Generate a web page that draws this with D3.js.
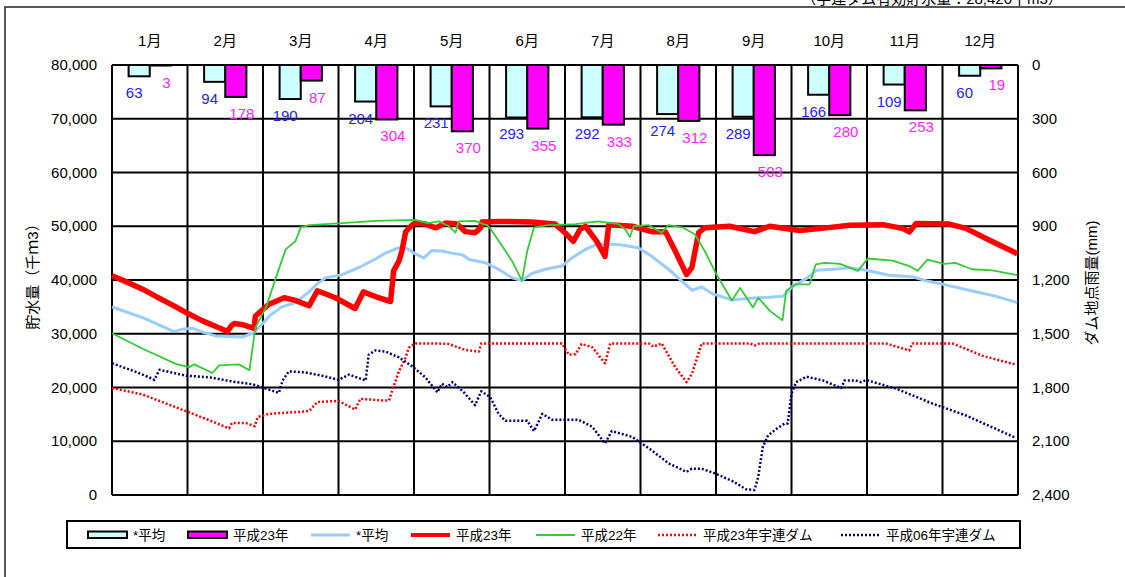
<!doctype html>
<html lang="ja">
<head>
<meta charset="utf-8">
<script src="https://d3js.org/d3.v7.min.js"></script>
<style>
  body { margin: 0; background: #fff; }
  text { font-family: "Liberation Sans", "Noto Sans CJK JP", sans-serif; }
</style>
</head>
<body>
<script>
var months = ["1月","2月","3月","4月","5月","6月","7月","8月","9月","10月","11月","12月"];
var avgRain = [63, 94, 190, 204, 231, 293, 292, 274, 289, 166, 109, 60];
var rain23 = [3, 178, 87, 304, 370, 355, 333, 312, 503, 280, 253, 19];
var leftTicks = [0, 10000, 20000, 30000, 40000, 50000, 60000, 70000, 80000];
var rightTicks = [0, 300, 600, 900, 1200, 1500, 1800, 2100, 2400];

// [month position (0-12), 貯水量 千m3]
var avgStore = [[0,35000],[0.2,34000],[0.405,33000],[0.6,31800],[0.82,30400],[0.95,30900],[1.07,31000],[1.2,30300],[1.37,29600],[1.55,29500],[1.73,29400],[1.88,30200],[1.99,31800],[2.1,33500],[2.25,35000],[2.43,35800],[2.61,37800],[2.72,39300],[2.83,40400],[3.05,41000],[3.31,42600],[3.5,44000],[3.62,45000],[3.8,46000],[3.89,46000],[4.0,45000],[4.13,44100],[4.24,45500],[4.37,45400],[4.5,45000],[4.64,44700],[4.73,43800],[4.95,43200],[5.12,42000],[5.3,40400],[5.43,39900],[5.56,41200],[5.74,42000],[5.96,42600],[6.09,44100],[6.27,45700],[6.44,46700],[6.71,46600],[6.97,46000],[7.15,44400],[7.37,42000],[7.5,40400],[7.68,38100],[7.81,38700],[7.96,37400],[8.21,36300],[8.45,36600],[8.71,36800],[8.89,37000],[9.02,38900],[9.2,40300],[9.33,41800],[9.55,42000],[9.77,42300],[9.99,41800],[10.29,40900],[10.6,40600],[10.8,39800],[11.04,39100],[11.44,37800],[11.7,37000],[11.99,35800]];
var store23 = [[0,40800],[0.2,39600],[0.405,38300],[0.6,36800],[0.846,35000],[1.0,33800],[1.2,32400],[1.4,31200],[1.53,30400],[1.58,31500],[1.62,31900],[1.73,31700],[1.88,31000],[1.9,33300],[2.08,35500],[2.28,36700],[2.43,36200],[2.61,35200],[2.72,38000],[2.96,36700],[3.22,34700],[3.33,37800],[3.53,36700],[3.69,36000],[3.73,41700],[3.8,43500],[3.84,45400],[3.89,49000],[3.98,50300],[4.04,50600],[4.15,50400],[4.29,49700],[4.42,50600],[4.57,50400],[4.68,49000],[4.81,48800],[4.88,49700],[4.9,50800],[5.12,50900],[5.56,50800],[5.87,50400],[6.0,48800],[6.11,47200],[6.2,49400],[6.27,50000],[6.42,47200],[6.53,44400],[6.58,50300],[6.89,50000],[7.15,49000],[7.33,49000],[7.46,45400],[7.61,41000],[7.68,42300],[7.77,48800],[7.85,49700],[8.18,50000],[8.51,49000],[8.71,50000],[9.11,49200],[9.46,49700],[9.77,50200],[10.21,50300],[10.47,49600],[10.56,48950],[10.65,50500],[11.09,50400],[11.31,49600],[11.61,47500],[11.99,44900]];
var store22 = [[0,30100],[0.405,27200],[0.846,24400],[1.02,23800],[1.09,24300],[1.33,22700],[1.42,24100],[1.68,24300],[1.82,23200],[1.9,31200],[2.04,34900],[2.17,40400],[2.3,45700],[2.43,47200],[2.5,49800],[2.61,50200],[3.05,50600],[3.49,51000],[4.02,51200],[4.18,50600],[4.33,50900],[4.46,50000],[4.55,48800],[4.59,50900],[4.81,51000],[4.99,50000],[5.17,46300],[5.3,43500],[5.43,39900],[5.5,45400],[5.59,49800],[5.78,50200],[6.14,50400],[6.44,50900],[6.71,50400],[6.8,49400],[6.86,48000],[6.91,50000],[7.11,50200],[7.28,48800],[7.37,50200],[7.55,49800],[7.72,48500],[7.85,45400],[8.0,41200],[8.21,36200],[8.32,38500],[8.49,34900],[8.56,36700],[8.71,34300],[8.88,32500],[8.93,38000],[9.06,39200],[9.24,39200],[9.32,42900],[9.44,43200],[9.64,43000],[9.88,41700],[10.01,44000],[10.34,43600],[10.56,42600],[10.67,41700],[10.8,43800],[11.02,43000],[11.17,43200],[11.39,42000],[11.66,41800],[11.99,40900]];
var dam23 = [[0,19900],[0.405,18700],[0.98,15600],[1.29,13900],[1.55,12400],[1.59,13400],[1.77,13400],[1.89,12800],[1.93,14500],[2.08,15100],[2.61,15600],[2.72,17300],[3.0,17500],[3.22,15900],[3.29,17900],[3.58,17600],[3.67,17600],[3.71,19400],[3.8,23000],[3.89,25600],[3.93,27400],[4.02,28200],[4.29,28200],[4.46,28100],[4.68,27000],[4.86,26700],[4.89,28200],[5.96,28200],[6.05,26100],[6.14,26200],[6.22,28100],[6.36,27500],[6.53,24500],[6.6,28200],[7.11,28200],[7.17,27600],[7.28,28200],[7.46,23800],[7.61,21000],[7.68,22500],[7.81,28200],[8.45,28200],[8.51,27800],[8.58,28200],[10.25,28200],[10.56,26900],[10.6,28200],[11.13,28200],[11.53,25900],[11.96,24300]];
var dam06 = [[0,24500],[0.3,23000],[0.54,21600],[0.56,21400],[0.63,23300],[0.98,22200],[1.29,21900],[1.64,21000],[1.86,20600],[2.21,19000],[2.26,21300],[2.34,23000],[2.56,22800],[2.78,22200],[3.0,21400],[3.14,22400],[3.36,21300],[3.4,26100],[3.49,26900],[3.62,26700],[3.8,25600],[3.98,23900],[4.15,21900],[4.31,19100],[4.37,20700],[4.44,20100],[4.51,21000],[4.66,19100],[4.81,16700],[4.89,19300],[5.01,18200],[5.12,15100],[5.21,13800],[5.5,13800],[5.59,11900],[5.7,15100],[5.83,14000],[6.18,14000],[6.36,12700],[6.53,9600],[6.62,11900],[6.89,10800],[7.15,8300],[7.37,5900],[7.61,4300],[7.68,4900],[7.81,4900],[7.99,4000],[8.23,2500],[8.4,1050],[8.51,930],[8.56,3400],[8.62,8950],[8.69,11100],[8.8,12300],[8.91,13300],[8.95,13300],[9.0,18800],[9.06,21000],[9.2,22000],[9.42,21300],[9.66,19900],[9.7,21300],[9.85,21300],[9.92,21000],[9.99,21400],[10.38,19800],[10.87,17000],[11.31,14800],[11.96,10700]];

var W = 1125, H = 577;
var pLeft = 112, pRight = 1018, pTop = 65, pBottom = 495;

var svg = d3.select("body").append("svg")
  .attr("width", W).attr("height", H);

var x = d3.scaleLinear().domain([0, 12]).range([pLeft, pRight]);
var y = d3.scaleLinear().domain([0, 80000]).range([pBottom, pTop]);
var yR = d3.scaleLinear().domain([0, 2400]).range([pTop, pBottom]);
var fmt = d3.format(",");

// outer frame and header
svg.append("path").attr("d", "M5," + H + "V7H" + W)
  .attr("fill", "none").attr("stroke", "#222").attr("stroke-width", 1.5);
svg.append("text").attr("x", 932).attr("y", 4).attr("text-anchor", "middle")
  .style("font-size", "15px").text("（宇連ダム有効貯水量：28,420千m3）");

// grid
var grid = svg.append("g").attr("stroke", "#000").attr("stroke-width", 2);
grid.selectAll(".hl").data(leftTicks).enter().append("line")
  .attr("x1", pLeft).attr("x2", pRight)
  .attr("y1", function(d){ return y(d); }).attr("y2", function(d){ return y(d); });
grid.selectAll(".vl").data(d3.range(13)).enter().append("line")
  .attr("y1", pTop).attr("y2", pBottom)
  .attr("x1", function(d){ return x(d); }).attr("x2", function(d){ return x(d); });

// axes labels
svg.append("g").selectAll("text").data(leftTicks).enter().append("text")
  .attr("x", 97).attr("y", function(d){ return y(d) + 5; })
  .attr("text-anchor", "end").style("font-size", "15px")
  .text(function(d){ return fmt(d); });
svg.append("g").selectAll("text").data(rightTicks).enter().append("text")
  .attr("x", 1032).attr("y", function(d){ return yR(d) + 5; })
  .style("font-size", "15px")
  .text(function(d){ return fmt(d); });
svg.append("g").selectAll("text").data(months).enter().append("text")
  .attr("x", function(d, i){ return x(i + 0.5); }).attr("y", 46)
  .attr("text-anchor", "middle").style("font-size", "15px")
  .text(function(d){ return d; });

svg.append("text").attr("transform", "translate(38,273) rotate(-90)")
  .attr("text-anchor", "middle").style("font-size", "15px").text("貯水量（千ｍ3）");
svg.append("text").attr("transform", "translate(1097,283) rotate(-90)")
  .attr("text-anchor", "middle").style("font-size", "15px").text("ダム地点雨量(mm)");

// rain bars
var bw = x(0.28) - x(0);
var bars = svg.append("g").attr("stroke", "#000").attr("stroke-width", 2);
bars.selectAll(".a").data(avgRain).enter().append("rect")
  .attr("x", function(d, i){ return x(i + 0.5) - bw; })
  .attr("y", yR(0)).attr("width", bw)
  .attr("height", function(d){ return yR(d) - yR(0); })
  .attr("fill", "#ccffff");
bars.selectAll(".b").data(rain23).enter().append("rect")
  .attr("x", function(d, i){ return x(i + 0.5); })
  .attr("y", yR(0)).attr("width", bw)
  .attr("height", function(d){ return yR(d) - yR(0); })
  .attr("fill", "#ff00ff");

// lines
var line = d3.line().x(function(d){ return x(d[0]); }).y(function(d){ return y(d[1]); });
function drawLine(data, color, width, dash) {
  svg.append("path").datum(data).attr("d", line)
    .attr("fill", "none").attr("stroke", color).attr("stroke-width", width)
    .attr("stroke-linejoin", "round")
    .attr("stroke-dasharray", dash || null);
}
drawLine(avgStore, "#99ccff", 3);
drawLine(store23, "#ff0000", 5.5);
drawLine(store22, "#33cc33", 1.8);
drawLine(dam23, "#ff0000", 2.5, "2,2");
drawLine(dam06, "#000080", 2.5, "2,2");

// bar value labels
svg.append("g").selectAll("text").data(avgRain).enter().append("text")
  .attr("x", function(d, i){ return x(i + 0.5) - bw / 2 - 5; })
  .attr("y", function(d){ return yR(d) + 22; })
  .attr("text-anchor", "middle").style("font-size", "15px").attr("fill", "#2222ff")
  .text(function(d){ return d; });
svg.append("g").selectAll("text").data(rain23).enter().append("text")
  .attr("x", function(d, i){ return x(i + 0.5) + bw / 2 + 6; })
  .attr("y", function(d){ return yR(d) + 22; })
  .attr("text-anchor", "middle").style("font-size", "15px").attr("fill", "#ff22ff")
  .text(function(d){ return d; });

// legend
var lg = svg.append("g");
lg.append("rect").attr("x", 67).attr("y", 521).attr("width", 953).attr("height", 27)
  .attr("fill", "#fff").attr("stroke", "#000").attr("stroke-width", 2);
var items = [
  {t: "*平均", x: 88, type: "bar", c: "#ccffff"},
  {t: "平成23年", x: 188, type: "bar", c: "#ff00ff"},
  {t: "*平均", x: 311, type: "line", c: "#99ccff", w: 3},
  {t: "平成23年", x: 411, type: "line", c: "#ff0000", w: 4},
  {t: "平成22年", x: 536, type: "line", c: "#33cc33", w: 2},
  {t: "平成23年宇連ダム", x: 658, type: "line", c: "#ff0000", w: 2.5, d: "2,2"},
  {t: "平成06年宇連ダム", x: 841, type: "line", c: "#000080", w: 2.5, d: "2,2"}
];
items.forEach(function(it) {
  if (it.type == "bar") {
    lg.append("rect").attr("x", it.x).attr("y", 531.5).attr("width", 39).attr("height", 6.5)
      .attr("fill", it.c).attr("stroke", "#000").attr("stroke-width", 2);
  } else {
    lg.append("line").attr("x1", it.x).attr("x2", it.x + 39).attr("y1", 535).attr("y2", 535)
      .attr("stroke", it.c).attr("stroke-width", it.w).attr("stroke-dasharray", it.d || null);
  }
  lg.append("text").attr("x", it.x + 45).attr("y", 540)
    .style("font-size", "13.5px").text(it.t);
});
</script>
</body>
</html>
